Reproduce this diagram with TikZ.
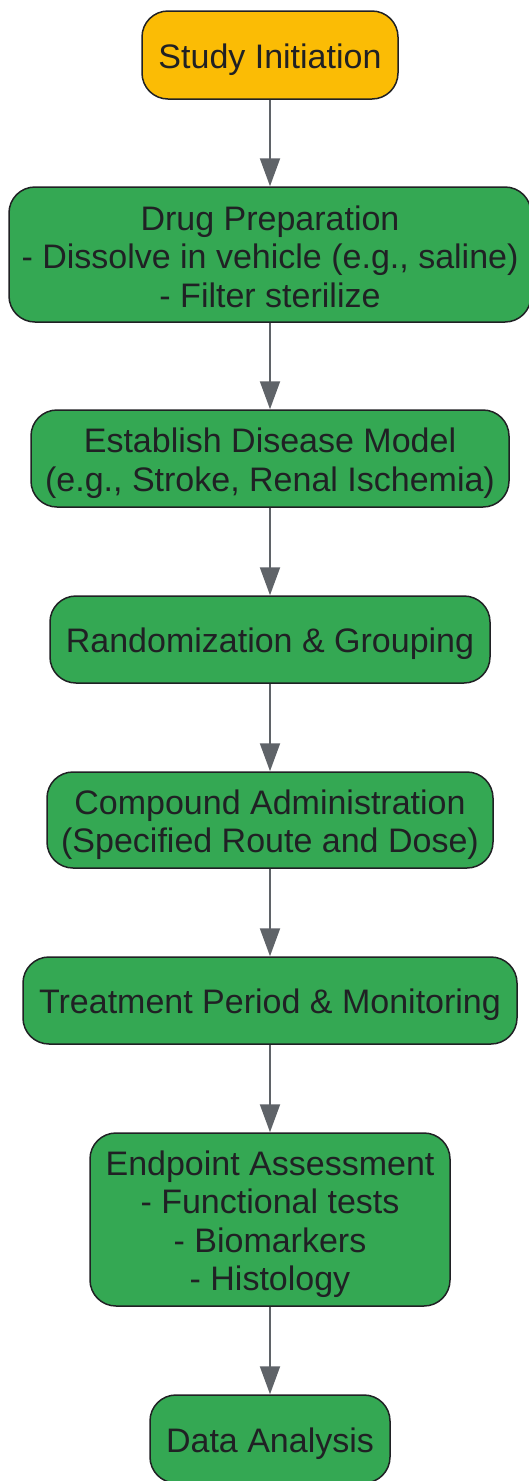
\documentclass[tikz,border=0pt]{standalone}
\usepackage{fontspec}
\setmainfont{Liberation Sans}
\usetikzlibrary{arrows.meta}

\definecolor{startColor}{HTML}{FBBC05}
\definecolor{stepColor}{HTML}{34A853}
\definecolor{lineColor}{HTML}{5F6368}
\definecolor{textColor}{HTML}{202124}

% fixed first line height and last line depth, so every box centres its text the same way
\newcommand{\lh}{\rule[-6pt]{0pt}{40pt}}
\newcommand{\ld}{\rule[-6pt]{0pt}{6pt}}

\tikzset{
  stepbox/.style={draw=textColor, line width=1.5pt, rounded corners=26pt,
    fill=stepColor, text=textColor, align=center, inner sep=0pt,
    font=\fontsize{34}{38.5}\selectfont},
  flow/.style={draw=lineColor, line width=2pt,
    -{Triangle[width=20pt,length=28pt]}}
}

\begin{document}
\begin{tikzpicture}[x=1pt,y=1pt]
  \useasboundingbox (0,0) rectangle (529,-1481);
  % Steps
  \node[stepbox, fill=startColor, minimum width=256pt, minimum height=88pt] (init) at (270,-55) {\lh Study Initiation};
  \node[stepbox, minimum width=522pt, minimum height=135pt] (prep) at (270,-254.5) {\lh Drug Preparation\\- Dissolve in vehicle (e.g., saline)\\- Filter sterilize\ld};
  \node[stepbox, minimum width=478pt, minimum height=97pt] (model) at (270,-458.5) {\lh Establish Disease Model\\(e.g., Stroke, Renal Ischemia)\ld};
  \node[stepbox, minimum width=440pt, minimum height=87pt] (rand) at (270,-639.5) {\lh Randomization \& Grouping};
  \node[stepbox, minimum width=446pt, minimum height=96pt] (admin) at (270,-820) {\lh Compound Administration\\(Specified Route and Dose)\ld};
  \node[stepbox, minimum width=494pt, minimum height=87pt] (treat) at (270,-1000.5) {\lh Treatment Period \& Monitoring};
  \node[stepbox, minimum width=360pt, minimum height=173pt] (assess) at (270,-1219.5) {\lh Endpoint Assessment\\- Functional tests\\- Biomarkers\\- Histology\ld};
  \node[stepbox, minimum width=240pt, minimum height=88pt] (data) at (270,-1439) {\lh Data Analysis};
  % Connectors
  \draw[flow] (init) -- (prep);
  \draw[flow] (prep) -- (model);
  \draw[flow] (model) -- (rand);
  \draw[flow] (rand) -- (admin);
  \draw[flow] (admin) -- (treat);
  \draw[flow] (treat) -- (assess);
  \draw[flow] (assess) -- (data);
\end{tikzpicture}
\end{document}
